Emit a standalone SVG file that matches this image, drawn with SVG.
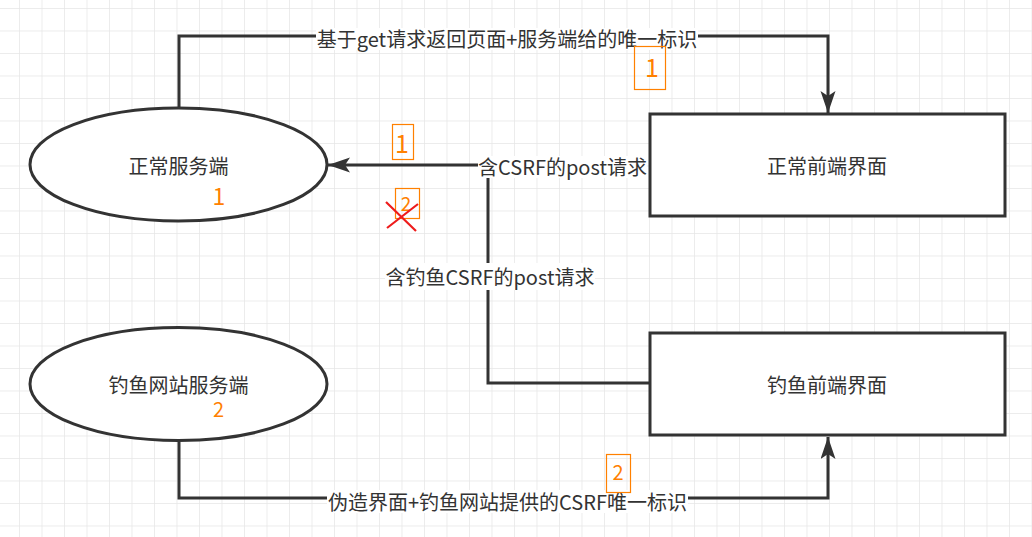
<svg xmlns="http://www.w3.org/2000/svg" width="1032" height="537" viewBox="0 0 1032 537">
  <defs>
    <pattern id="grid" x="19" y="8" width="22.5" height="22.5" patternUnits="userSpaceOnUse">
      <path d="M0 0 H22.5 M0 0 V22.5" fill="none" stroke="#e6e6e6" stroke-width="1.5"/>
    </pattern>
    <marker id="arrow" markerUnits="userSpaceOnUse" markerWidth="24" markerHeight="16" refX="22" refY="7.5" orient="auto">
      <path d="M0,0 L22,7.5 L0,15 L5,7.5 Z" fill="#333333"/>
    </marker>
    <style>
      .shape { fill: #ffffff; stroke: #333333; stroke-width: 3; }
      .edge { fill: none; stroke: #333333; stroke-width: 3; marker-end: url(#arrow); }
      .lbl { font-family: "Noto Sans CJK SC", "Noto Sans", sans-serif; font-size: 20px; fill: #333333; text-anchor: middle; }
      .bg { fill: #ffffff; }
      .num { font-family: "Noto Sans CJK SC", "Noto Sans", sans-serif; fill: #ff8000; text-anchor: middle; }
      .obox { fill: none; stroke: #ff8000; stroke-width: 1.2; }
    </style>
  </defs>
  <rect width="1032" height="537" fill="#ffffff"/>
  <rect width="1032" height="537" fill="url(#grid)"/>

  <g id="connectors">
    <path class="edge" d="M179,107 V36 H828 V113"/>
    <path class="edge" d="M649,383 H488 V165 H328"/>
    <path class="edge" d="M179,442 V498 H828 V437"/>
    <g id="edge-labels">
      <rect class="bg" x="316" y="28" width="382" height="22"/>
      <text class="lbl" x="507" y="47">基于get请求返回页面+服务端给的唯一标识</text>
      <rect class="bg" x="478" y="156" width="169" height="22"/>
      <text class="lbl" x="562.5" y="174.5">含CSRF的post请求</text>
      <rect class="bg" x="385" y="263" width="210" height="27"/>
      <text class="lbl" x="490" y="284.5">含钓鱼CSRF的post请求</text>
      <rect class="bg" x="327" y="490" width="361" height="23"/>
      <text class="lbl" x="507.5" y="509.5">伪造界面+钓鱼网站提供的CSRF唯一标识</text>
    </g>
  </g>

  <g id="node-normal-server">
    <ellipse class="shape" cx="178.5" cy="164.5" rx="148.5" ry="56.5"/>
    <text class="lbl" x="178.5" y="173.5">正常服务端</text>
    <text class="num" x="219" y="205" font-size="23">1</text>
  </g>

  <g id="node-phish-server">
    <ellipse class="shape" cx="178.5" cy="384" rx="148.5" ry="56.5"/>
    <text class="lbl" x="178.5" y="392.5">钓鱼网站服务端</text>
    <text class="num" x="218.5" y="417" font-size="20">2</text>
  </g>

  <g id="node-normal-front">
    <rect class="shape" x="650" y="114" width="355" height="102"/>
    <text class="lbl" x="827" y="174">正常前端界面</text>
  </g>

  <g id="node-phish-front">
    <rect class="shape" x="650" y="333" width="355" height="102"/>
    <text class="lbl" x="827" y="393">钓鱼前端界面</text>
  </g>

  <g id="marks">
    <rect class="obox" x="634.5" y="46.5" width="31" height="43"/>
    <text class="num" x="652" y="76.5" font-size="25">1</text>
    <rect class="obox" x="392.5" y="124.5" width="21" height="35"/>
    <text class="num" x="402" y="152.5" font-size="25">1</text>
    <rect class="obox" x="395.5" y="188.5" width="24" height="30"/>
    <text class="num" x="406" y="211" font-size="19">2</text>
    <path d="M386,202 L416,231 M387,228 L418,204" fill="none" stroke="#ee1c1c" stroke-width="2.2"/>
    <rect class="obox" x="606.5" y="454.5" width="24" height="38"/>
    <text class="num" x="618" y="479.5" font-size="20">2</text>
  </g>
</svg>
